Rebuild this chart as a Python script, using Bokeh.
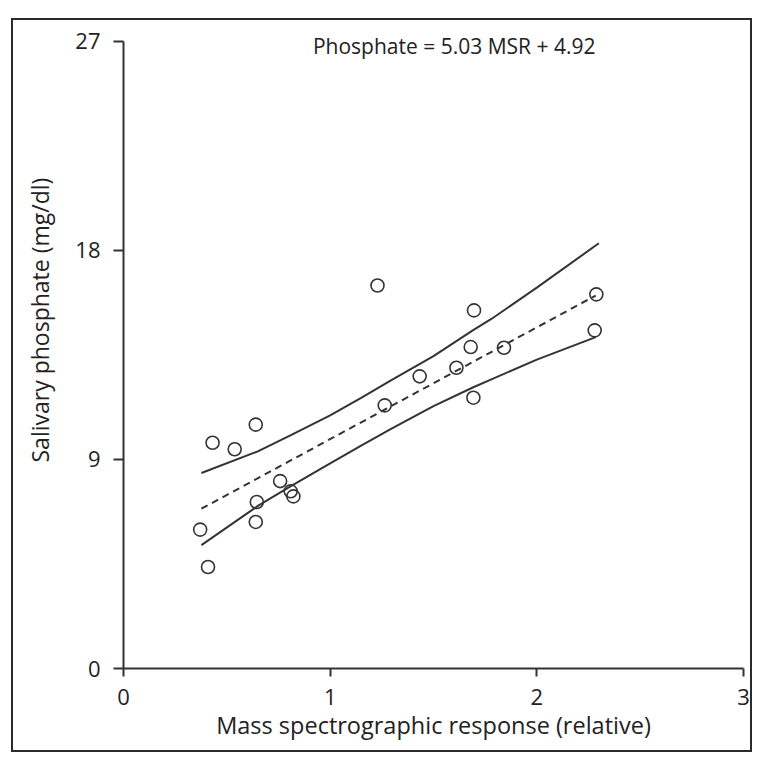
from bokeh.plotting import figure
from bokeh.models import Range1d, FixedTicker, Label, Title
from bokeh.embed import file_html
from bokeh.resources import INLINE

# Data
msr = [0.371, 0.409, 0.431, 0.538, 0.640, 0.645, 0.640, 0.758, 0.809, 0.822,
       1.229, 1.264, 1.433, 1.611, 1.680, 1.693, 1.696, 1.841, 2.280, 2.288]
phosphate = [5.98, 4.37, 9.72, 9.44, 10.50, 7.17, 6.31, 8.07, 7.63, 7.41,
             16.49, 11.33, 12.58, 12.95, 13.84, 11.66, 15.42, 13.81, 14.56, 16.11]

fit_x = [0.377, 2.285]
fit_y = [6.88, 16.06]

upper_x = [0.377, 0.65, 0.81, 1.0, 1.15, 1.29, 1.5, 1.69, 1.78, 2.0, 2.30]
upper_y = [8.42, 9.35, 10.05, 10.9, 11.65, 12.38, 13.45, 14.56, 15.05, 16.4, 18.31]
lower_x = [0.377, 0.65, 0.81, 1.0, 1.15, 1.29, 1.5, 1.69, 1.78, 2.0, 2.285]
lower_y = [5.31, 7.0, 7.85, 8.83, 9.6, 10.3, 11.3, 12.1, 12.45, 13.3, 14.27]

x_ticks = [0, 1, 2, 3]
y_ticks = [0, 9, 18, 27]
title_text = "Phosphate = 5.03 MSR + 4.92"
x_label = "Mass spectrographic response (relative)"
y_label = "Salivary phosphate (mg/dl)"

FONT = "Open Sans"
INK = "#333333"
TXT = "#222222"

p = figure(width=752, height=752, output_backend="svg", toolbar_location=None,
           x_range=Range1d(0, 3), y_range=Range1d(0, 27.6),
           min_border_left=123, min_border_right=9, min_border_top=27,
           min_border_bottom=84)
p.outline_line_color = None
p.grid.grid_line_color = None
p.background_fill_color = None
p.border_fill_color = None
g = "linear-gradient(#2a2a2a,#2a2a2a)"
p.styles = {
    "background": (f"{g} 11px 18px / 2px 734px no-repeat, "
                   f"{g} 11px 18px / 741px 2px no-repeat, "
                   f"{g} 750px 18px / 2px 734px no-repeat, "
                   f"{g} 11px 750px / 741px 2px no-repeat, white"),
}

for ax, ticks in ((p.xaxis, x_ticks), (p.yaxis, y_ticks)):
    ax.ticker = FixedTicker(ticks=ticks)
    ax.minor_tick_line_color = None
    ax.axis_line_color = INK
    ax.axis_line_width = 2
    ax.major_tick_line_color = INK
    ax.major_tick_line_width = 2
    ax.major_tick_in = 0
    ax.major_label_text_font = FONT
    ax.major_label_text_font_size = "22px"
    ax.major_label_text_color = TXT
    ax.axis_label_text_font = FONT
    ax.axis_label_text_font_size = "23.5px"
    ax.axis_label_text_font_style = "normal"
    ax.axis_label_text_color = TXT

p.xaxis.bounds = (0, 3)
p.yaxis.bounds = (0, 27)
p.xaxis.major_tick_out = 8
p.yaxis.major_tick_out = 10
p.xaxis.major_label_standoff = 12
p.yaxis.major_label_standoff = 13
p.xaxis.axis_label = x_label
p.xaxis.axis_label_standoff = 1

ytitle = Title(text=y_label, align="left", offset=206, text_font=FONT,
               text_font_size="23px", text_font_style="normal",
               text_color=TXT, standoff=34)
p.add_layout(ytitle, "left")

p.line(upper_x, upper_y, line_color=INK, line_width=2)
p.line(lower_x, lower_y, line_color=INK, line_width=2)
p.line(fit_x, fit_y, line_color=INK, line_width=2, line_dash="7 5")
p.scatter(msr, phosphate, marker="circle", size=13, fill_color="white",
          fill_alpha=0.0, line_color=INK, line_width=1.6)

p.add_layout(Label(x=1.6, y=26.82, text=title_text, text_align="center",
                   text_baseline="middle", text_font=FONT,
                   text_font_size="21px", text_color=TXT))

open("out.html", "w").write(file_html(p, INLINE))
